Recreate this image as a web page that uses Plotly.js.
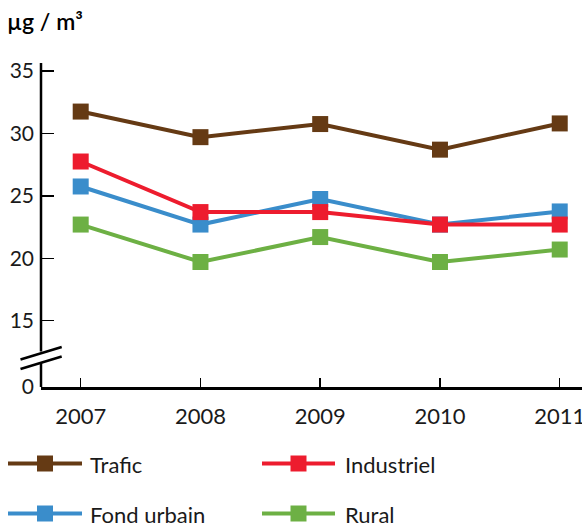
<!DOCTYPE html>
<html>
<head>
<meta charset="utf-8">
<script src="https://cdn.plot.ly/plotly-3.0.1.min.js"></script>
<style>html,body{margin:0;padding:0;background:#fff;}#chart{width:582px;height:524px;}</style>
</head>
<body>
<div id="chart"></div>
<script>
// ---- data ----
const years = [2007, 2008, 2009, 2010, 2011];
const trafic = [31.75, 29.7, 30.75, 28.7, 30.8];
const industriel = [27.75, 23.7, 23.7, 22.7, 22.7];
const fondUrbain = [25.75, 22.7, 24.75, 22.7, 23.75];
const rural = [22.7, 19.7, 21.7, 19.7, 20.7];
const seriesNames = ["Trafic", "Industriel", "Fond urbain", "Rural"];
const seriesColors = ["#653A14", "#ED1C2E", "#3A8DCB", "#6DB044"];
const yTickLabels = ["0", "15", "20", "25", "30", "35"];
const yTickValues = [9.69, 15, 20, 25, 30, 35];
const unitTitle = "µg / m³";

// ---- layout geometry ----
const L = 41, T = 63, W = 541, H = 324;
const xp = px => (px - L) / W;
const yp = py => (T + H - py) / H;
const FONT = "Lato, 'Open Sans', 'DejaVu Sans', sans-serif";
const TXT = "#1a1a1a";

const seriesData = [trafic, industriel, fondUrbain, rural];
const drawOrder = [0, 3, 2, 1];
const traces = drawOrder.map(i => ({
  type: "scatter", mode: "lines+markers",
  x: years, y: seriesData[i], name: seriesNames[i],
  line: {color: seriesColors[i], width: 4},
  marker: {symbol: "square", size: 16, color: seriesColors[i]},
  showlegend: false, hoverinfo: "skip"
}));

const shapes = [];
const annotations = [];
// y axis line, broken
shapes.push({type: "line", xref: "paper", yref: "paper", x0: 0, x1: 0, y0: 0, y1: yp(363), line: {color: "#000", width: 2.5}});
shapes.push({type: "line", xref: "paper", yref: "paper", x0: 0, x1: 0, y0: yp(351.5), y1: 1, line: {color: "#000", width: 2.5}});
// break marks
shapes.push({type: "line", xref: "paper", yref: "paper", x0: xp(20.5), x1: xp(61.7), y0: yp(359.5), y1: yp(347), line: {color: "#000", width: 2.5}});
shapes.push({type: "line", xref: "paper", yref: "paper", x0: xp(20.5), x1: xp(61.7), y0: yp(369), y1: yp(356.5), line: {color: "#000", width: 2.5}});

// custom legend
const legPos = [
  {x0: 8, x1: 82, tx: 88, y: 463.5},
  {x0: 262, x1: 335, tx: 343, y: 463.5},
  {x0: 8, x1: 82, tx: 88, y: 513.5},
  {x0: 262, x1: 335, tx: 343, y: 513.5}
];
seriesNames.forEach((n, i) => {
  const p = legPos[i];
  const c = seriesColors[i];
  shapes.push({type: "line", xref: "paper", yref: "paper", x0: xp(p.x0), x1: xp(p.x1), y0: yp(p.y), y1: yp(p.y), line: {color: c, width: 4}});
  const mx = (p.x0 + p.x1) / 2;
  shapes.push({type: "rect", xref: "paper", yref: "paper", x0: xp(mx - 8), x1: xp(mx + 8), y0: yp(p.y + 8), y1: yp(p.y - 8), line: {width: 0}, fillcolor: c});
  annotations.push({xref: "paper", yref: "paper", x: xp(p.tx), y: yp(p.y + 1), xanchor: "left", yanchor: "middle", text: n, showarrow: false, font: {family: FONT, size: 22, color: TXT}});
});

const layout = {
  width: 582, height: 524,
  margin: {l: L, r: 0, t: T, b: 524 - T - H, pad: 0},
  paper_bgcolor: "#fff", plot_bgcolor: "#fff",
  font: {family: FONT, color: TXT, size: 21},
  title: {text: unitTitle, xref: "container", yref: "container", x: 7 / 582, xanchor: "left", y: 1 - 22 / 524, yanchor: "middle",
          font: {family: FONT, size: 23, color: "#000", weight: 600}},
  xaxis: {range: [2006.6685, 2011.186], tickvals: years, ticktext: years.map(String),
          showgrid: false, zeroline: false, showline: true, linecolor: "#000", linewidth: 2.5,
          ticks: "inside", ticklen: 9, tickwidth: 1.5, tickcolor: "#000", ticklabeloverflow: "allow",
          tickfont: {family: FONT, size: 22, color: TXT}, ticklabelstandoff: 8, fixedrange: true},
  yaxis: {range: [9.69, 35.64], tickvals: yTickValues, ticktext: yTickLabels,
          showgrid: false, zeroline: false, showline: false,
          ticks: "inside", ticklen: 13, tickwidth: 1.5, tickcolor: "#000",
          tickfont: {family: FONT, size: 21, color: TXT}, ticklabelstandoff: 6, fixedrange: true},
  shapes: shapes,
  annotations: annotations,
  showlegend: false
};

Plotly.newPlot("chart", traces, layout, {displayModeBar: false, staticPlot: true});
</script>
</body>
</html>
